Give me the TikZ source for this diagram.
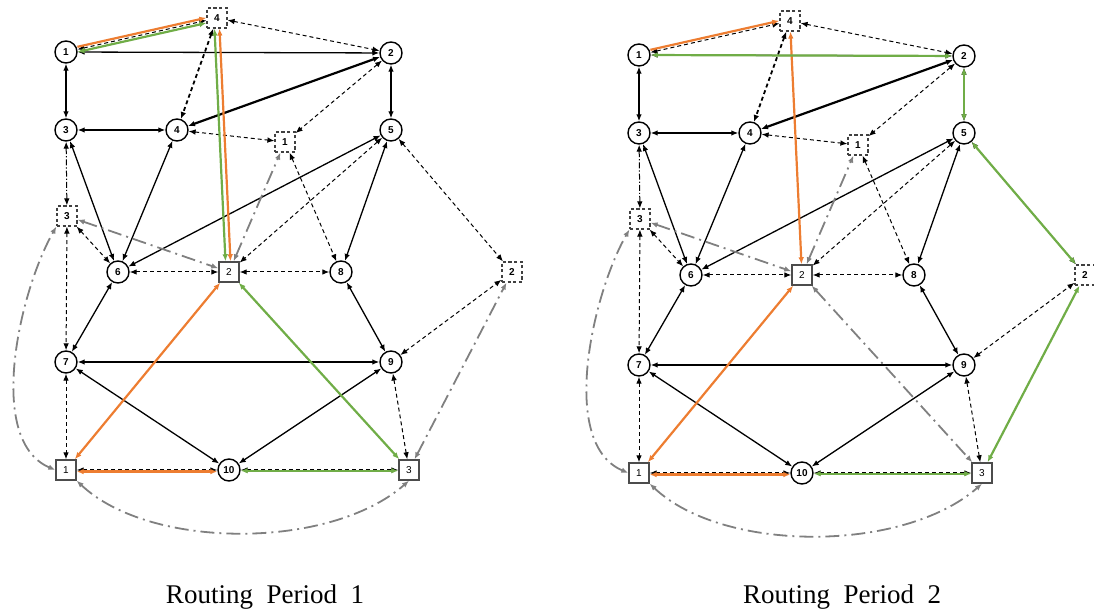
\documentclass[tikz,border=0pt]{standalone}
\usepackage{tikz}
\usepackage{fontspec}
\setmainfont{Liberation Serif}
\setsansfont{Liberation Sans}
\usetikzlibrary{arrows.meta}

\definecolor{routeorange}{HTML}{ED7D31}
\definecolor{routegreen}{HTML}{70AD47}

\begin{document}
\begin{tikzpicture}[x=0.5pt, y=-0.5pt,
            >={Latex[length=3.5pt,width=2.8pt]},
            cnode/.style = {draw,circle,line width=0.7pt,minimum size=11pt,
                inner sep=0pt,font=\fontsize{5}{6}\selectfont\sffamily\bfseries},
            ssq/.style = {draw=black!70,rectangle,line width=0.7pt,minimum size=10pt,
                inner sep=0pt,font=\fontsize{5}{6}\selectfont\sffamily},
            dsq/.style = {draw=black!75,rectangle,dash pattern=on 1.6pt off 1.2pt,
                line width=0.6pt,minimum size=10pt,inner sep=0pt,
                font=\fontsize{5}{6}\selectfont\sffamily\bfseries},
            link/.style = {<->,line width=0.65pt},
            dlink/.style = {<->,line width=0.5pt,dash pattern=on 2pt off 1.5pt},
            ddlink/.style = {<->,line width=0.5pt,dash pattern=on 3pt off 1pt on 0.6pt off 1pt},
            glink/.style = {<->,color=gray,line width=0.9pt,
                dash pattern=on 7pt off 2.5pt on 1pt off 2.5pt},
            orng/.style = {<->,color=routeorange,line width=1.1pt},
            grn/.style = {<->,color=routegreen,line width=1.1pt}]
    \useasboundingbox (0,0) rectangle (1094,613);
    \foreach \p/\dx/\dy in {L/0/0, R/573/3}{
        \begin{scope}[shift={(\dx,\dy)}]
            % customers
            \node[cnode] (\p-n1) at (66,52) {1};
            \node[cnode] (\p-n2) at (391,53) {2};
            \node[cnode] (\p-n3) at (66,130) {3};
            \node[cnode] (\p-n4) at (177,130) {4};
            \node[cnode] (\p-n5) at (391,130) {5};
            \node[cnode] (\p-n6) at (118,272) {6};
            \node[cnode] (\p-n7) at (66,362) {7};
            \node[cnode] (\p-n8) at (341,272) {8};
            \node[cnode] (\p-n9) at (391,362) {9};
            \node[cnode] (\p-n10) at (229,470) {10};
            % depots
            \node[ssq] (\p-s1) at (66,470) {1};
            \node[ssq] (\p-s2) at (229,272) {2};
            \node[ssq] (\p-s3) at (409,470) {3};
            % dummy depots
            \node[dsq] (\p-d1) at (285,142) {1};
            \node[dsq] (\p-d2) at (512,272) {2};
            \node[dsq] (\p-d3) at (67,216) {3};
            \node[dsq] (\p-d4) at (217,18) {4};
            \path[link]
                (\p-n1) edge (\p-n2)
                (\p-n1) edge (\p-n3)
                (\p-n2) edge (\p-n5)
                (\p-n3) edge (\p-n4)
                (\p-n3) edge (\p-n6)
                (\p-n4) edge (\p-n6)
                (\p-n5) edge (\p-n6)
                (\p-n5) edge (\p-n8)
                (\p-n6) edge (\p-n7)
                (\p-n8) edge (\p-n9)
                (\p-n7) edge (\p-n9)
                (\p-n7) edge (\p-n10)
                (\p-n9) edge (\p-n10);
            \path[link,line width=1.1pt] (\p-n2) edge (\p-n4);
            \path[dlink]
                (\p-n1) edge (\p-d4)
                (\p-d4) edge (\p-n2)
                (\p-n4) edge (\p-d1)
                (\p-n2) edge (\p-d1)
                (\p-d1) edge (\p-n8)
                (\p-n5) edge (\p-s2)
                (\p-n5) edge (\p-d2)
                (\p-n6) edge (\p-s2)
                (\p-s2) edge (\p-n8)
                (\p-d3) edge (\p-n6)
                (\p-d3) edge (\p-n7)
                (\p-n7) edge (\p-s1)
                (\p-n9) edge (\p-d2)
                (\p-n9) edge (\p-s3)
                (\p-s1) edge (\p-n10)
                (\p-n10) edge (\p-s3);
            \path[dlink,line width=0.9pt] (\p-d4) edge (\p-n4);
            \path[ddlink] (\p-n3) edge (\p-d3);
            \path[glink]
                (\p-d3) edge (\p-s2)
                (\p-s2) edge (\p-d1);
            \draw[glink] (\p-s1.west) .. controls (-15,440) and (20,290) .. (\p-d3.south west);
            \draw[glink] (\p-s1.south east) .. controls (150,550) and (330,550) .. (\p-s3.south);
        \end{scope}
    }
    % routing period 1
    \draw[glink] (L-s3) -- (L-d2);
    \draw[orng,->,transform canvas={yshift=1.3pt}] (L-n1) -- (L-d4);
    \draw[grn,transform canvas={yshift=-1.3pt}] (L-n1) -- (L-d4);
    \draw[orng,transform canvas={xshift=1pt}] (L-d4) -- (L-s2);
    \draw[grn,transform canvas={xshift=-1.5pt}] (L-d4) -- (L-s2);
    \draw[orng] (L-s2) -- (L-s1);
    \draw[orng,transform canvas={yshift=-0.8pt}] (L-s1) -- (L-n10);
    \draw[grn] (L-s2) -- (L-s3);
    \draw[grn,transform canvas={yshift=-0.4pt}] (L-n10) -- (L-s3);
    % routing period 2
    \draw[glink] (R-s2) -- (R-s3);
    \draw[orng,->,transform canvas={yshift=1.3pt}] (R-n1) -- (R-d4);
    \draw[orng] (R-d4) -- (R-s2);
    \draw[orng] (R-s2) -- (R-s1);
    \draw[orng,transform canvas={yshift=-0.8pt}] (R-s1) -- (R-n10);
    \draw[grn] (R-n1) -- (R-n2);
    \draw[grn] (R-n2) -- (R-n5);
    \draw[grn] (R-n5) -- (R-d2);
    \draw[grn] (R-d2) -- (R-s3);
    \draw[grn,transform canvas={yshift=-0.4pt}] (R-n10) -- (R-s3);
    % captions
    \node[font=\fontsize{13.5}{16}\selectfont] (cap1) at (265,597) {Routing\ \ Period\ \ 1};
    \node[font=\fontsize{13.5}{16}\selectfont] (cap2) at (842,597) {Routing\ \ Period\ \ 2};
\end{tikzpicture}
\end{document}
